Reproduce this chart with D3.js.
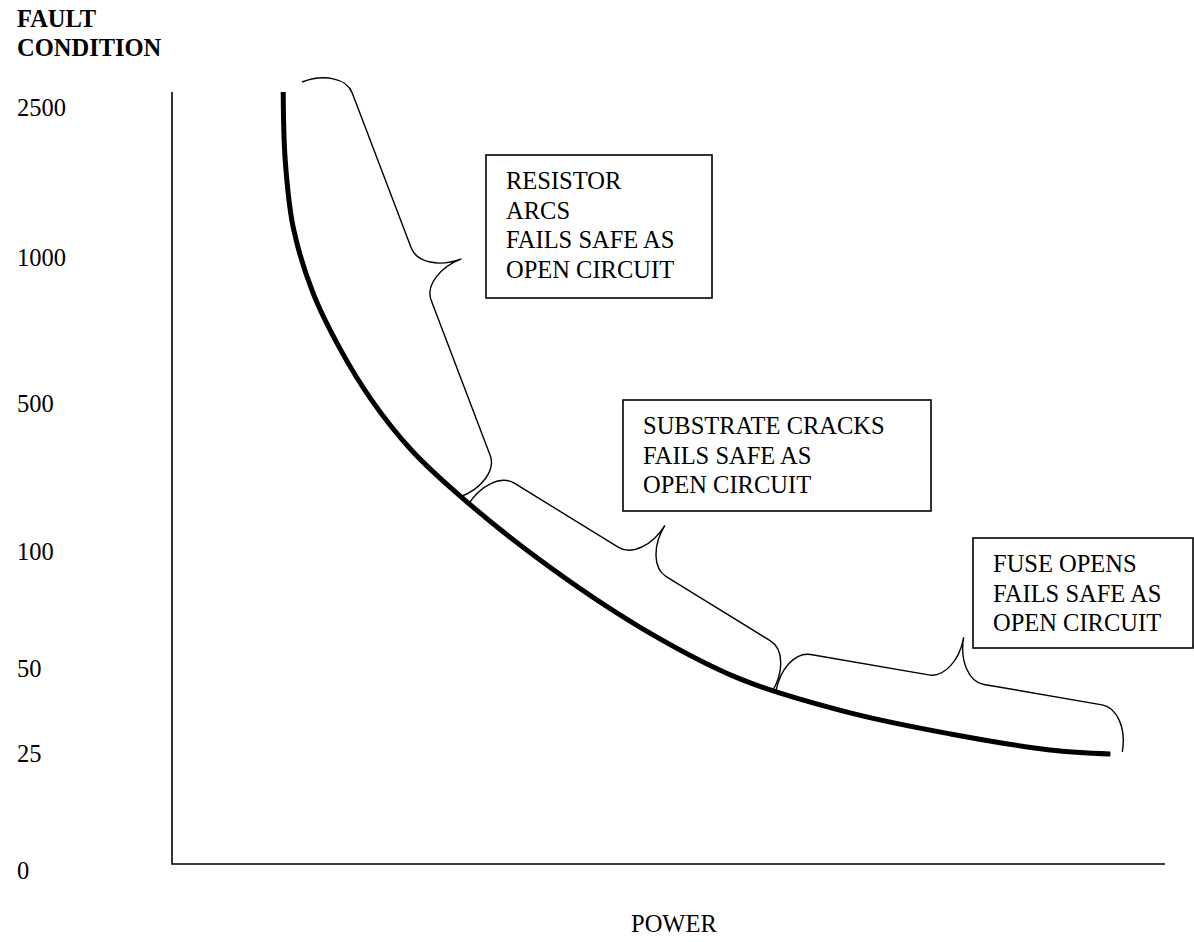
<!DOCTYPE html>
<html lang="en">
<head>
    <meta charset="UTF-8">
    <title>Fault condition vs power</title>
    <style>
        body {
            padding: 0;
            margin: 0;
            background: #fff;
        }
        text {
            font-family: "Liberation Serif", "Times New Roman", serif;
            font-size: 24.5px;
            fill: #000;
        }
    </style>
</head>
<body>
    <script src="https://d3js.org/d3.v7.min.js"></script>
    <script>
        const width = 1194;
        const height = 942;

        // y tick labels (fault condition)
        const faultTicks = [0, 25, 50, 100, 500, 1000, 2500];
        // curve: power (arbitrary 0-100 units) vs fault condition
        const curvePower = [11.2, 11.4, 12.2, 14.2, 17.0, 20.1, 24.1, 29.0, 37.1, 47.1, 57.2, 68.3, 78.4, 88.4, 94.5];
        const curveFault = [2650, 1970, 1300, 877, 681, 510, 373, 249, 96, 67.5, 46.8, 36.8, 30.6, 25.9, 24.8];
        // brace ranges along the curve: [power, fault] start and end
        const braceStart = [[13.1, 2750], [29.8, 224], [60.8, 42.9]];
        const braceEnd = [[29.0, 246], [60.4, 42.9], [95.7, 25.3]];
        // annotation texts
        const notes = [
            ['RESISTOR', 'ARCS', 'FAILS SAFE AS', 'OPEN CIRCUIT'],
            ['SUBSTRATE CRACKS', 'FAILS SAFE AS', 'OPEN CIRCUIT'],
            ['FUSE OPENS', 'FAILS SAFE AS', 'OPEN CIRCUIT']
        ];

        // layout
        const axisLeft = 172, axisTop = 92, axisBottom = 864, axisRight = 1165;
        const tickRange = [870, 753, 668, 551, 403, 257, 107];
        const boxes = [
            { x: 486, y: 155, w: 226, h: 143 },
            { x: 623, y: 400, w: 308, h: 111 },
            { x: 973, y: 538, w: 220, h: 110 }
        ];

        const svg = d3.select('body')
            .append('svg')
            .attr('width', width)
            .attr('height', height);

        const x = d3.scaleLinear().domain([0, 100]).range([axisLeft, axisRight]);
        // hand-drawn axis: labels are not evenly spaced, so piecewise scale
        const y = d3.scaleLinear().domain(faultTicks).range(tickRange);

        // axis lines
        svg.append('path')
            .attr('d', `M${axisLeft},${axisTop}V${axisBottom}H${axisRight}`)
            .attr('fill', 'none')
            .attr('stroke', '#000')
            .attr('stroke-width', 1.6);

        // tick labels
        const yAxis = svg.append('g')
            .attr('transform', 'translate(17,0)')
            .call(d3.axisRight(y).tickValues(faultTicks).tickSize(0).tickPadding(0).tickFormat(d3.format('d')));
        yAxis.select('.domain').remove();
        yAxis.selectAll('text')
            .attr('fill', '#000')
            .attr('dy', '0.33em')
            .style('font-family', '"Liberation Serif", serif')
            .style('font-size', '24.5px');

        // axis titles
        svg.append('text')
            .attr('x', 17).attr('y', 27)
            .attr('font-weight', 'bold')
            .text('FAULT');
        svg.append('text')
            .attr('x', 17).attr('y', 56)
            .attr('font-weight', 'bold')
            .text('CONDITION');
        svg.append('text')
            .attr('x', 631).attr('y', 932)
            .text('POWER');

        // main curve
        const pts = curvePower.map((p, i) => [p, curveFault[i]]);
        const line = d3.line()
            .x(d => x(d[0]))
            .y(d => y(d[1]))
            .curve(d3.curveCatmullRom.alpha(0.5));
        svg.append('path')
            .datum(pts)
            .attr('d', line)
            .attr('fill', 'none')
            .attr('stroke', '#000')
            .attr('stroke-width', 5);

        // curly brace between two points, tip pointing to the upper right side
        function brace(a, b, w, r) {
            const dx = b[0] - a[0], dy = b[1] - a[1];
            const L = Math.hypot(dx, dy);
            const d = [dx / L, dy / L];
            const n = [d[1], -d[0]];
            const P = (u, v) => [a[0] + u * d[0] + v * n[0], a[1] + u * d[1] + v * n[1]];
            const k = 0.552, h = w / 2, m = L / 2;
            const c = (...q) => q.map(p => P(p[0], p[1]).join(',')).join(' ');
            return `M${c([0, 0])}` +
                `C${c([0, k * h], [r - k * r, h], [r, h])}` +
                `L${c([m - r, h])}` +
                `C${c([m - r + k * r, h], [m, w - k * h], [m, w])}` +
                `C${c([m, w - k * h], [m + r - k * r, h], [m + r, h])}` +
                `L${c([L - r, h])}` +
                `C${c([L - r + k * r, h], [L, k * h], [L, 0])}`;
        }

        svg.append('g')
            .selectAll('path')
            .data(braceStart)
            .join('path')
            .attr('d', (s, i) => brace([x(s[0]), y(s[1])], [x(braceEnd[i][0]), y(braceEnd[i][1])], 86, 28))
            .attr('fill', 'none')
            .attr('stroke', '#000')
            .attr('stroke-width', 1.4);

        // annotation boxes
        const note = svg.append('g')
            .selectAll('g')
            .data(notes)
            .join('g')
            .attr('transform', (d, i) => `translate(${boxes[i].x},${boxes[i].y})`);
        note.append('rect')
            .attr('width', (d, i) => boxes[i].w)
            .attr('height', (d, i) => boxes[i].h)
            .attr('fill', '#fff')
            .attr('stroke', '#000')
            .attr('stroke-width', 1.6);
        note.selectAll('text')
            .data(d => d)
            .join('text')
            .attr('x', 20)
            .attr('y', (d, j) => 34 + j * 29.5)
            .text(d => d);
    </script>
</body>
</html>
